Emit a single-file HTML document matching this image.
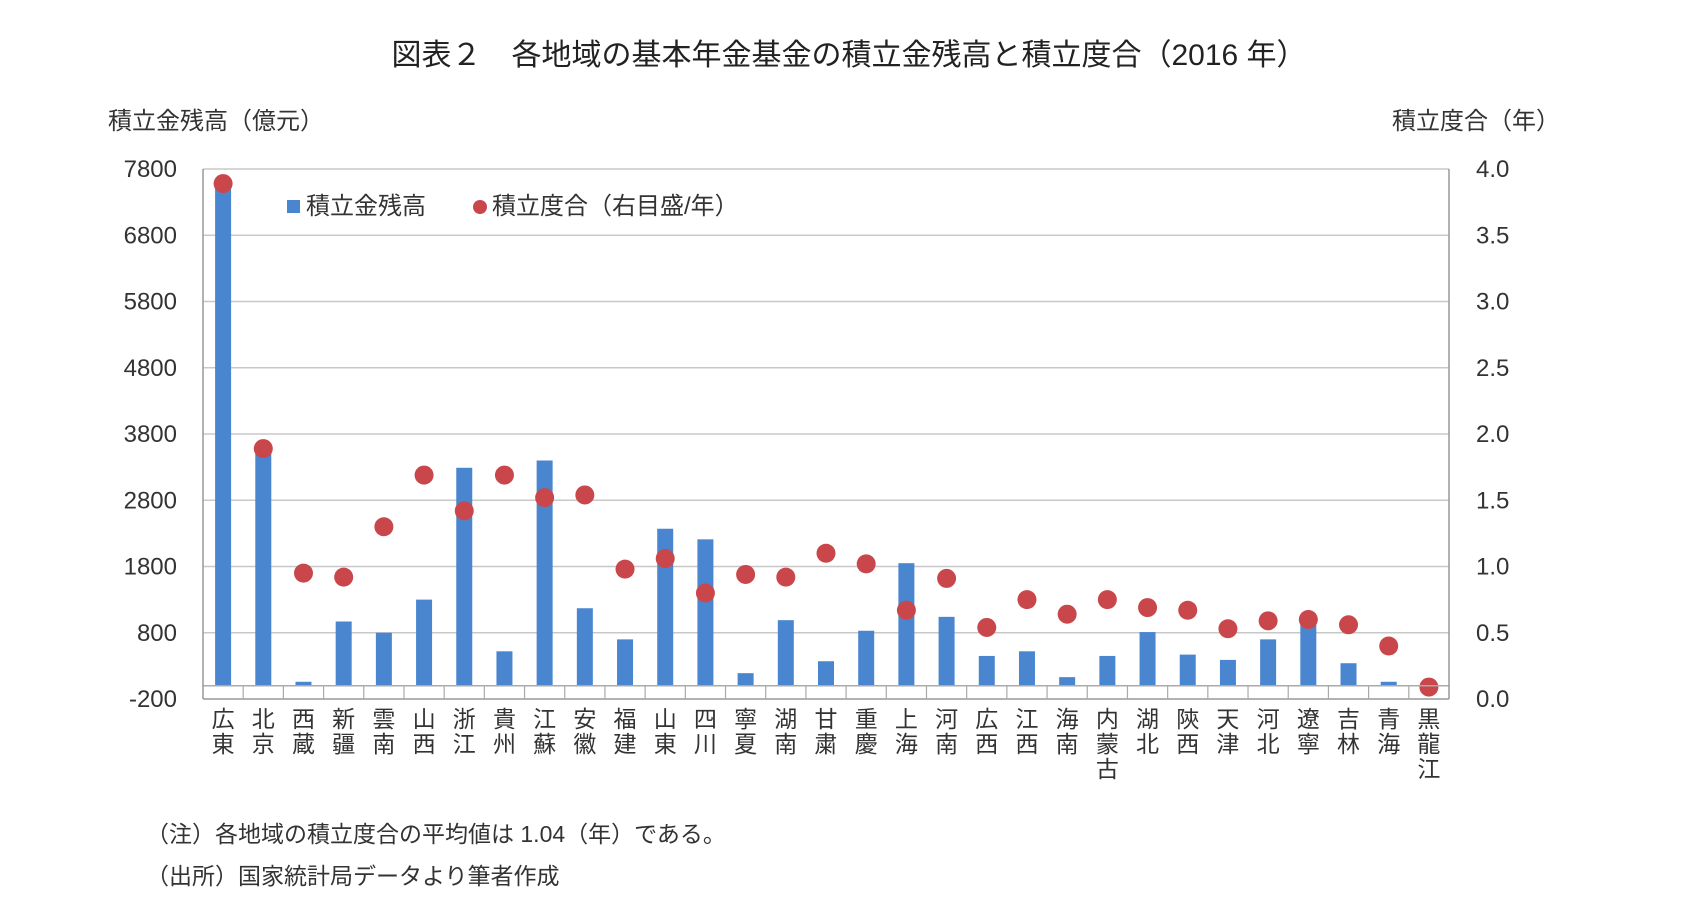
<!DOCTYPE html>
<html><head><meta charset="utf-8"><style>
html,body{margin:0;padding:0;background:#fff;}
svg{display:block;font-family:"Liberation Sans","Noto Sans CJK JP",sans-serif;}
</style></head><body>
<svg id="chart" width="1693" height="920" viewBox="0 0 1693 920">
<text x="849" y="65" text-anchor="middle" font-size="30" fill="#222">図表２　各地域の基本年金基金の積立金残高と積立度合（2016 年）</text>
<text x="108" y="129" font-size="24" fill="#333">積立金残高（億元）</text>
<text x="1560" y="129" text-anchor="end" font-size="24" fill="#333">積立度合（年）</text>
<g id="grid"></g><g id="bars"></g><g id="dots"></g><g id="axes"></g>
<g>
<rect x="287" y="200" width="13" height="13" fill="#4a86d0"/>
<text x="306" y="214" font-size="24" fill="#333">積立金残高</text>
<circle cx="480" cy="207" r="7" fill="#c9474a"/>
<text x="492" y="214" font-size="24" fill="#333">積立度合（右目盛/年）</text>
</g>
<text x="146" y="842" font-size="23" fill="#333">（注）各地域の積立度合の平均値は 1.04（年）である。</text>
<text x="146" y="884" font-size="23" fill="#333">（出所）国家統計局データより筆者作成</text>
</svg>
<script>
const categories=["広東","北京","西蔵","新疆","雲南","山西","浙江","貴州","江蘇","安徽","福建","山東","四川","寧夏","湖南","甘粛","重慶","上海","河南","広西","江西","海南","内蒙古","湖北","陝西","天津","河北","遼寧","吉林","青海","黒龍江"];
const balances=[7650,3550,60,970,800,1300,3290,520,3400,1170,700,2370,2210,190,990,370,830,1850,1040,450,520,130,450,810,470,390,700,940,340,60,-100];
const ratios=[3.89,1.89,0.95,0.92,1.30,1.69,1.42,1.69,1.52,1.54,0.98,1.06,0.80,0.94,0.92,1.10,1.02,0.67,0.91,0.54,0.75,0.64,0.75,0.69,0.67,0.53,0.59,0.60,0.56,0.40,0.09];
const leftTicks=[-200,800,1800,2800,3800,4800,5800,6800,7800];
const rightTicks=["0.0","0.5","1.0","1.5","2.0","2.5","3.0","3.5","4.0"];
const X0=203,X1=1449,YT=169,YB=699;
const yL=v=>YB-(v+200)/8000*(YB-YT);
const yR=v=>YB-v/4*(YB-YT);
const bw=(X1-X0)/categories.length;
const xC=i=>X0+bw*(i+0.5);
const NS="http://www.w3.org/2000/svg";
function mk(tag,attrs,parent){const e=document.createElementNS(NS,tag);for(const k in attrs)e.setAttribute(k,attrs[k]);document.getElementById(parent).appendChild(e);return e;}
leftTicks.forEach((t,i)=>{
 const y=yL(t);
 const l=mk('line',{x1:X0,x2:X1,y1:y,y2:y,stroke:i===0?'#999':'#c8c8c8','stroke-width':1.5},'grid');
 
 
 const tx=mk('text',{x:177,y:y+8,'text-anchor':'end','font-size':24,fill:'#333'},'axes');
 tx.textContent=t;
 
 
 const r=mk('text',{x:1476,y:y+8,'font-size':24,fill:'#333'},'axes');
 r.textContent=rightTicks[i];
 
 
});
const y0=yL(0);
const zl=mk('line',{x1:X0,x2:X1,y1:y0,y2:y0,stroke:'#aaa','stroke-width':1.5},'axes');


[X0,X1].forEach(x=>{const v=mk('line',{x1:x,x2:x,y1:YT,y2:YB,stroke:'#999','stroke-width':1.5},'axes');

});
categories.forEach((c,i)=>{
 if(i>0){const tk=mk('line',{x1:X0+bw*i,x2:X0+bw*i,y1:y0,y2:YB,stroke:'#aaa','stroke-width':1.2},'axes');
 
 }
 const v=balances[i];const ya=yL(Math.max(v,0)),yb=yL(Math.min(v,0));
 const b=mk('rect',{x:xC(i)-8,y:ya,width:16,height:Math.max(yb-ya,1),fill:'#4a86d0'},'bars');
 
 
 const d=mk('circle',{cx:xC(i),cy:yR(ratios[i]),r:9.5,fill:'#c9474a'},'dots');
 
 
 [...c].forEach((ch,j)=>{const t=mk('text',{x:xC(i),y:727+j*25,'text-anchor':'middle','font-size':23,fill:'#333'},'axes');
 t.textContent=ch;
 
 });
});
</script>
</body></html>
